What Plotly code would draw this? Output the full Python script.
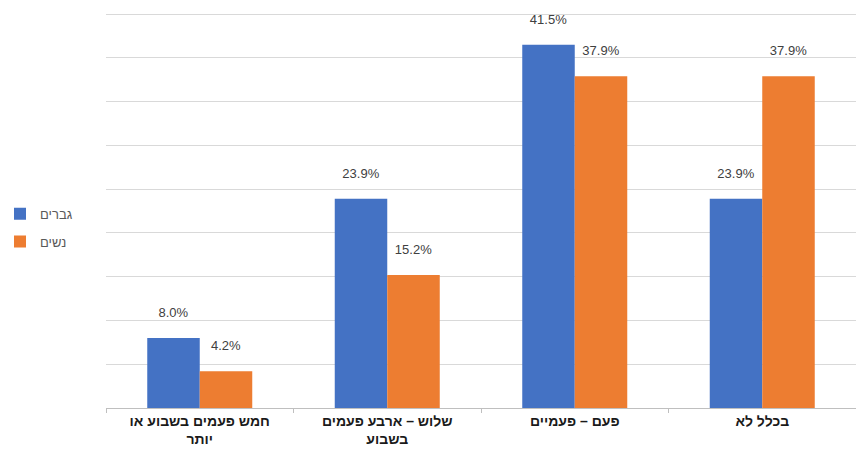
import plotly.graph_objects as go

categories = ["חמש פעמים בשבוע או<br>יותר", "שלוש – ארבע פעמים<br>בשבוע", "פעם – פעמיים", "בכלל לא"]
men = [8.0, 23.9, 41.5, 23.9]
women = [4.2, 15.2, 37.9, 37.9]
series_names = ["גברים", "נשים"]

font_family = "Liberation Sans, DejaVu Sans, Arial, sans-serif"

def labels(vals):
    return [f"{v:.1f}%<br><span style='font-size:5px'> </span>" for v in vals]

fig = go.Figure()
fig.add_trace(go.Bar(
    x=categories, y=men, name=series_names[0], legendgroup="a",
    marker=dict(color="#4472C4", line=dict(width=0)),
    text=labels(men), textposition="outside",
    textfont=dict(size=13, color="#404040", family=font_family),
    cliponaxis=False,
))
fig.add_trace(go.Bar(
    x=categories, y=women, name=series_names[1], legendgroup="b",
    marker=dict(color="#ED7D31", line=dict(width=0)),
    text=labels(women), textposition="outside",
    textfont=dict(size=13, color="#404040", family=font_family),
    cliponaxis=False,
))

fig.update_layout(
    width=856, height=457,
    margin=dict(l=106, r=0, t=11, b=49),
    paper_bgcolor="white", plot_bgcolor="white",
    barmode="group", bargap=0.44, bargroupgap=0,
    font=dict(family=font_family, size=13, color="#404040"),
    showlegend=True,
    legend=dict(
        x=0, xref="container", xanchor="left",
        y=0.454, yanchor="middle",
        font=dict(size=13, color="#595959", family=font_family),
        itemwidth=30, tracegroupgap=8,
        bgcolor="rgba(0,0,0,0)",
    ),
    uniformtext=dict(mode=False),
)
fig.update_xaxes(
    showline=True, linecolor="#BFBFBF", linewidth=1,
    ticks="outside", tickson="boundaries", ticklen=4, tickcolor="#BFBFBF",
    tickfont=dict(size=14, color="#1a1a1a", family=font_family, weight="bold"),
    showgrid=False,
)
fig.update_yaxes(
    range=[0, 45.35], tickvals=[5, 10, 15, 20, 25, 30, 35, 40, 45],
    showgrid=True, gridcolor="#D9D9D9", gridwidth=1,
    showticklabels=False, zeroline=False, ticks="",
)

fig.write_html("out.html")
